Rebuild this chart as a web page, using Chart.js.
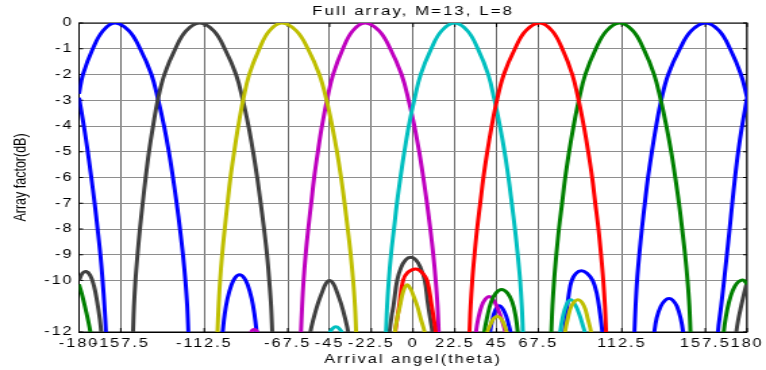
<!DOCTYPE html>
<html><head><meta charset="utf-8">
<script src="https://cdn.jsdelivr.net/npm/chart.js@4.4.1/dist/chart.umd.min.js"></script>
<style>
html,body{margin:0;padding:0;background:#fff;overflow:hidden}
#c{display:block;width:766px !important;height:370px !important}
</style></head><body>
<canvas id="c" width="567" height="370" style="width:766px;height:370px"></canvas>
<script>
// ---- tick values ----
const xTicks = [-180,-157.5,-112.5,-67.5,-45,-22.5,0,22.5,45,67.5,112.5,157.5,180];
const yTicks = [0,-1,-2,-3,-4,-5,-6,-7,-8,-9,-10,-12];

// ---- series (angle in degrees, array factor in dB); null separates pieces of one colour ----
const blueAngle = [-180,-177.9,-172.6,-167.1,-160.7,-153.2,-147.1,-141.0,-137.3,-134.2,-131.6,-129.4,-127.4,-125.6,-124.0,-122.7,-121.7,-121.1,-120.5, null,
  163.8,164.3,166.0,167.6,169.1,170.6,172.0,173.5,175.2,177.3,180, null,
  118.7,119.3,119.9,120.7,121.9,123.3,124.9,126.6,128.7,131.0,133.7,137.5,143.8,150.0,157.7,164.9,170.8,176.7,180, null,
  -180,-177.4,-175.3,-173.4,-171.6,-170.0,-168.5,-167.3,-166.3,-165.5,-164.9, null,
  -103.3,-102.6,-101.5,-100,-98,-96,-93.5,-91,-89,-87,-85.5,-84.3,-83.7, null,
  41.0,41.5,42.5,44.3,46.4,48.5,50.5,52.0,53.0,53.4, null,
  81.0,81.5,82.6,84,85.5,87.8,90.7,93.7,96.8,99,100.8,102,102.5, null,
  129.5,130,131.3,133.5,135.8,137.9,140,142.2,144.3,145.5,146];
const blueDb = [-2.75,-2,-1,-0.3,0,-0.3,-1,-2,-3,-4,-5,-6,-7,-8,-9,-10,-11,-12,-13, null,
  -13,-12,-11,-10,-9,-8,-7,-6,-5,-4,-2.9, null,
  -13,-12,-11,-10,-9,-8,-7,-6,-5,-4,-3,-2,-1,-0.3,0,-0.3,-1,-2,-2.9, null,
  -2.9,-4,-5,-6,-7,-8,-9,-10,-11,-12,-13, null,
  -12.5,-12,-11.3,-10.7,-10.2,-9.9,-9.78,-9.9,-10.2,-10.7,-11.3,-12,-12.5, null,
  -12.5,-12,-11.6,-11.15,-10.98,-11.12,-11.45,-11.85,-12.2,-12.5, null,
  -12.5,-12,-11.3,-10.5,-10.0,-9.72,-9.62,-9.72,-10.0,-10.5,-11.3,-12,-12.5, null,
  -12.5,-12,-11.45,-11.0,-10.77,-10.7,-10.77,-11.0,-11.5,-12,-12.5];

const grayAngle = [-151.4,-150.9,-150.4,-149.6,-148.5,-147.2,-145.7,-144.1,-142.3,-140.1,-137.6,-134.0,-128.1,-122.2,-115,-107.5,-101.5,-95.4,-91.7,-88.7,-86.2,-84.0,-82.1,-80.3,-78.7,-77.5,-76.5,-75.9,-75.3, null,
  -180,-178.2,-176.2,-174,-172,-170.3,-168.8,-167.8,-167.5, null,
  -55.7,-55.3,-53.5,-51.3,-49,-47,-45.1,-43,-41,-38.8,-36.7,-35,-34.6, null,
  -13.2,-12.7,-11.6,-10.5,-8.6,-6.5,-4,-1.3,1.5,4,6.3,8.0,9.3,10.4,10.8, null,
  173.8,174.2,175.3,176.8,178.4,180];
const grayDb = [-13,-12,-11,-10,-9,-8,-7,-6,-5,-4,-3,-2,-1,-0.3,0,-0.3,-1,-2,-3,-4,-5,-6,-7,-8,-9,-10,-11,-12,-13, null,
  -10.0,-9.72,-9.65,-9.8,-10.2,-10.8,-11.5,-12.2,-12.5, null,
  -12.5,-12,-11.45,-10.9,-10.45,-10.12,-10.0,-10.12,-10.45,-10.9,-11.45,-12,-12.5, null,
  -12.5,-12,-11.4,-10.95,-10.0,-9.5,-9.2,-9.1,-9.2,-9.5,-10.0,-10.9,-11.5,-12,-12.5, null,
  -12.5,-12,-11.5,-11.0,-10.5,-10.05];

const yellowAngle = [-106.0,-105.4,-104.8,-104.0,-102.9,-101.5,-100.0,-98.4,-96.4,-94.2,-91.6,-88.3,-82.8,-77.4,-70.7,-63.0,-56.7,-50.5,-46.6,-43.6,-41.0,-38.8,-36.9,-35.2,-33.6,-32.3,-31.3,-30.7,-30.1, null,
  -10.3,-9.8,-8.5,-7.1,-5.4,-3.3,-1.2,0.5,2.3,4.2,6.2,6.8, null,
  39.6,40.1,41.5,43.4,45.4,47.4,49.3,50.8,51.3, null,
  81.4,81.9,83.3,85.5,88.9,92,94.2,95.9,96.5];
const yellowDb = [-13,-12,-11,-10,-9,-8,-7,-6,-5,-4,-3,-2,-1,-0.3,0,-0.3,-1,-2,-3,-4,-5,-6,-7,-8,-9,-10,-11,-12,-13, null,
  -12.5,-12,-11.45,-11.0,-10.45,-10.17,-10.35,-10.65,-11.0,-11.5,-12,-12.5, null,
  -12.5,-12,-11.75,-11.48,-11.4,-11.48,-11.75,-12.1,-12.5, null,
  -12.5,-12,-11.5,-10.97,-10.75,-10.97,-11.5,-12,-12.5];

const magentaAngle = [-61.0,-60.4,-59.8,-59.0,-57.9,-56.5,-54.9,-53.3,-51.3,-49.1,-46.4,-43.1,-37.8,-32.5,-25.9,-18.4,-12.3,-6.2,-2.4,0.7,3.3,5.5,7.5,9.3,10.9,12.2,13.2,13.8,14.4, null,
  -88.3,-87.2,-85.6,-84,-83, null,
  33.3,33.9,35.2,37,39,41,43,45,47,49,50.3,50.8];
const magentaDb = [-13,-12,-11,-10,-9,-8,-7,-6,-5,-4,-3,-2,-1,-0.3,0,-0.3,-1,-2,-3,-4,-5,-6,-7,-8,-9,-10,-11,-12,-13, null,
  -12.5,-12.0,-11.9,-12.0,-12.5, null,
  -12.5,-12,-11.45,-10.98,-10.72,-10.62,-10.72,-10.98,-11.35,-11.8,-12.2,-12.5];

const cyanAngle = [-15.2,-14.6,-14.0,-13.1,-11.9,-10.3,-8.7,-6.8,-4.7,-2.3,0.6,4.1,9.8,15.4,22.4,29.3,34.9,40.5,43.9,46.8,49.3,51.4,53.2,54.9,56.4,57.7,58.6,59.2,59.8, null,
  -45.7,-45,-43.4,-41.6,-39.8,-38.2,-37.5, null,
  78.8,79.3,80.6,82.6,85,87.4,89.5,91.5,93.2,93.6];
const cyanDb = [-13,-12,-11,-10,-9,-8,-7,-6,-5,-4,-3,-2,-1,-0.3,0,-0.3,-1,-2,-3,-4,-5,-6,-7,-8,-9,-10,-11,-12,-13, null,
  -12.5,-12.05,-11.87,-11.8,-11.87,-12.05,-12.5, null,
  -12.5,-12,-11.45,-10.95,-10.75,-10.95,-11.3,-11.75,-12.2,-12.5];

const redAngle = [29.8,30.4,31.0,31.9,33.1,34.5,36.2,37.9,40.0,42.4,45.2,48.9,54.9,60.8,68.2,74.9,80.4,85.8,89.2,92.0,94.4,96.5,98.2,99.9,101.3,102.5,103.4,104.0,104.6, null,
  -10.1,-9.6,-8.5,-7.5,-5.4,-2.8,1.5,5,7.6,10.1,11.2,12.2,12.6];
const redDb = [-13,-12,-11,-10,-9,-8,-7,-6,-5,-4,-3,-2,-1,-0.3,0,-0.3,-1,-2,-3,-4,-5,-6,-7,-8,-9,-10,-11,-12,-13, null,
  -12.5,-12,-11.45,-11.0,-10.0,-9.68,-9.55,-9.7,-10.0,-11.0,-11.5,-12,-12.5];

const greenAngle = [73.9,74.5,75.1,76.0,77.2,78.6,80.3,82.0,84.1,86.5,89.3,92.8,98.5,104.3,111.3,118.4,124.2,129.9,133.5,136.5,139.1,141.3,143.3,145.0,146.6,147.9,148.9,149.5,150.1, null,
  -180,-178.2,-176.2,-174.4,-173.2,-172.8, null,
  37.9,38.4,40,42,44.5,47.7,51,53.5,55.3,56.4,56.8, null,
  166.9,167.4,168.6,170.2,172.2,174.4,176.5,178.3,180];
const greenDb = [-13,-12,-11,-10,-9,-8,-7,-6,-5,-4,-3,-2,-1,-0.3,0,-0.3,-1,-2,-3,-4,-5,-6,-7,-8,-9,-10,-11,-12,-13, null,
  -10.15,-10.6,-11.2,-11.8,-12.3,-12.6, null,
  -12.5,-12,-11.4,-10.85,-10.5,-10.35,-10.5,-10.85,-11.4,-12,-12.5, null,
  -12.5,-12,-11.4,-10.85,-10.4,-10.12,-10.0,-10.0,-10.15];

// ---- build chart ----
const FONT = "'Liberation Sans', Arial, Helvetica, sans-serif";
function toPoints(angles, dbs) {
  return angles.map((a, i) => (a === null ? {x: null, y: null} : {x: a, y: dbs[i]}));
}
function series(label, angles, dbs, color) {
  return {label, data: toPoints(angles, dbs), borderColor: color, backgroundColor: color,
    borderWidth: 3, pointRadius: 0, pointHoverRadius: 0, fill: false,
    tension: 0.4, spanGaps: false};
}

const spacingPlugin = {
  id: 'spacing',
  beforeDraw(chart) {
    chart.ctx.letterSpacing = '1.5px';
    const ys = chart.scales.y;
    if (ys && !ys._noSpacing) {
      const orig = ys.drawTitle.bind(ys);
      ys.drawTitle = function () {
        const c = this.ctx; const prev = c.letterSpacing;
        c.letterSpacing = '0px'; orig(); c.letterSpacing = prev;
      };
      ys._noSpacing = true;
    }
  }
};
const boxPlugin = {
  id: 'box',
  beforeDatasetsDraw(chart) {
    const {ctx, chartArea: a, scales: {x, y}} = chart;
    ctx.save();
    ctx.strokeStyle = '#000'; ctx.lineWidth = 1;
    ctx.strokeRect(a.left, a.top, a.right - a.left, a.bottom - a.top);
    ctx.beginPath();
    xTicks.forEach(v => { const p = x.getPixelForValue(v);
      ctx.moveTo(p, a.top); ctx.lineTo(p, a.top + 4); ctx.moveTo(p, a.bottom); ctx.lineTo(p, a.bottom - 4); });
    yTicks.forEach(v => { const p = y.getPixelForValue(v);
      ctx.moveTo(a.left, p); ctx.lineTo(a.left + 3, p); ctx.moveTo(a.right, p); ctx.lineTo(a.right - 3, p); });
    ctx.stroke();
    ctx.restore();
  }
};

new Chart(document.getElementById('c'), {
  type: 'line',
  data: {datasets: [
    series('yellow', yellowAngle, yellowDb, '#BFBF00'),
    series('red', redAngle, redDb, '#FF0000'),
    series('green', greenAngle, greenDb, '#008000'),
    series('cyan', cyanAngle, cyanDb, '#00BFBF'),
    series('magenta', magentaAngle, magentaDb, '#BF00BF'),
    series('black', grayAngle, grayDb, '#404040'),
    series('blue', blueAngle, blueDb, '#0000FF')
  ]},
  options: {
    responsive: false, animation: false, devicePixelRatio: 1,
    layout: {padding: {left: 0, right: 11, top: 0, bottom: 0}},
    plugins: {
      legend: {display: false}, tooltip: {enabled: false},
      title: {display: true, text: 'Full array, M=13, L=8', fullSize: false, color: '#000',
        font: {family: FONT, size: 12.5, weight: 'normal'}, padding: {top: 4, bottom: 4}}
    },
    scales: {
      x: {type: 'linear', min: -180, max: 180,
        afterBuildTicks: s => { s.ticks = xTicks.map(v => ({value: v})); },
        afterFit: s => { s.height = 38; },
        ticks: {autoSkip: false, maxRotation: 0, minRotation: 0, color: '#000', padding: 4,
          font: {family: FONT, size: 12}, callback: v => String(v)},
        grid: {color: '#6a6a6a', lineWidth: 1, drawTicks: false},
        border: {display: true, color: '#000', width: 1},
        title: {display: true, text: 'Arrival angel(theta)', color: '#000',
          font: {family: FONT, size: 12}, padding: {top: 0, bottom: 3}}
      },
      y: {type: 'linear', min: -12, max: 0,
        afterBuildTicks: s => { s.ticks = yTicks.map(v => ({value: v})); },
        afterFit: s => { s.width = 58.5; },
        ticks: {color: '#000', padding: 4, font: {family: FONT, size: 12}, callback: v => String(v)},
        grid: {color: '#8e8e8e', lineWidth: 1, drawTicks: false},
        border: {display: true, color: '#000', width: 1},
        title: {display: true, text: 'Array factor(dB)', color: '#000',
          font: {family: FONT, size: 12.5}, padding: {top: 8, bottom: 0}}
      }
    }
  },
  plugins: [spacingPlugin, boxPlugin]
});
</script>
</body></html>
